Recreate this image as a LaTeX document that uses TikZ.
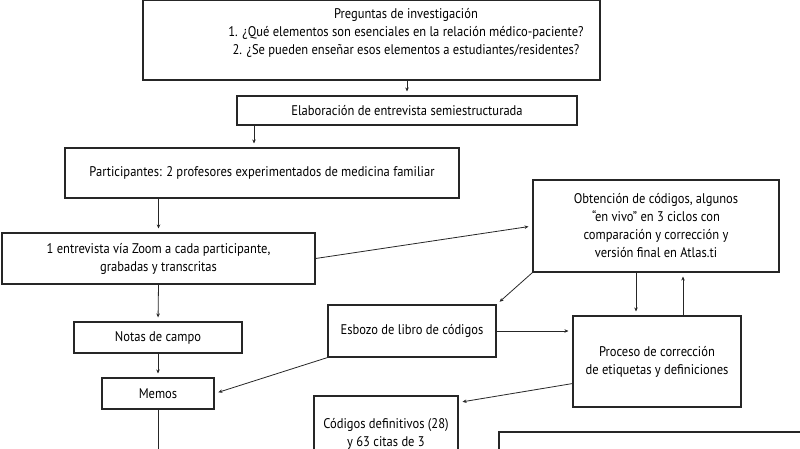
\documentclass[tikz,border=0pt]{standalone}
\usepackage{fontspec}
\setmainfont[FakeStretch=0.895]{PT Sans}
\usetikzlibrary{arrows.meta}

\begin{document}
\begin{tikzpicture}[
        x=1pt, y=-1pt,
        caja/.style={draw=black!85, line width=1.1pt, inner sep=0pt, align=center,
                     font=\fontsize{14}{18}\selectfont, text=black},
        texto/.style={align=center, inner sep=0pt, font=\fontsize{14}{18}\selectfont, text=black},
        flecha/.style={-{Stealth[length=4pt,width=3.5pt]}, line width=0.8pt, draw=black!85, shorten >=4pt},
        linea/.style={line width=0.8pt, draw=black!85}]

    \useasboundingbox (0,0) rectangle (800,448);
    \clip (0,0) rectangle (800,448);

    % --- Columna izquierda
    \node[caja, minimum width=457pt, minimum height=80pt] (preg) at (371.5,40) {};
    \node[texto] (pregtxt) at (406,33) {Preguntas de investigación\\
        1. ¿Qué elementos son esenciales en la relación médico-paciente?\\
        2. ¿Se pueden enseñar esos elementos a estudiantes/residentes?};
    \node[caja, minimum width=340pt, minimum height=29pt] (elab) at (407,110.5)
        {Elaboración de entrevista semiestructurada};
    \node[caja, minimum width=394pt, minimum height=50pt] (partic) at (262,173)
        {Participantes: 2 profesores experimentados de medicina familiar};
    \node[caja, minimum width=313pt, minimum height=51pt] (entrev) at (158.5,258.5)
        {1 entrevista vía Zoom a cada participante,\\ grabadas y transcritas};
    \node[caja, minimum width=168pt, minimum height=31pt] (notas) at (158,337.5) {Notas de campo};
    \node[caja, minimum width=112pt, minimum height=31pt] (memos) at (158,393.5) {Memos};

    % --- Columna derecha
    \node[caja, minimum width=246pt, minimum height=92pt] (obten) at (656,226)
        {Obtención de códigos, algunos\\ “en vivo” en 3 ciclos con\\
         comparación y corrección y\\ versión final en Atlas.ti};
    \node[caja, minimum width=168pt, minimum height=52pt] (esbozo) at (412,331)
        {Esbozo de libro de códigos};
    \node[caja, minimum width=168pt, minimum height=91pt] (proceso) at (657,361.5)
        {Proceso de corrección\\ de etiquetas y definiciones};
    \node[caja, minimum width=144pt, minimum height=110pt] (codigos) at (386,451) {};
    \node[texto] (codtxt) at (386,434) {Códigos definitivos (28)\\ y 63 citas de 3};
    \node[caja, minimum width=400pt, minimum height=60pt] (final) at (699,462) {};

    % --- Conectores verticales
    \coordinate (xelab) at (254,0);
    \coordinate (xbaja) at (636,0);
    \coordinate (xsube) at (683,0);
    \draw[flecha] (elab.north |- preg.south) -- (elab.north);
    \draw[flecha] (elab.south -| xelab) -- (partic.north -| xelab);
    \draw[flecha] (entrev.north |- partic.south) -- (entrev.north);
    \draw[flecha] (entrev.south) -- (notas.north);
    \draw[flecha] (notas.south) -- (memos.north);
    \draw[linea] (memos.south) -- ++(0,60);
    \draw[flecha] (obten.south -| xbaja) -- (proceso.north -| xbaja);
    \draw[flecha] (proceso.north -| xsube) -- (obten.south -| xsube);

    % --- Conectores oblicuos
    \draw[flecha] (entrev.east) -- (obten.west);
    \draw[flecha] (obten.south west) -- (esbozo.north east);
    \draw[flecha] (esbozo.east) -- (esbozo.east -| proceso.west);
    \draw[flecha] (esbozo.south west) -- (memos.east);
    \draw[flecha] ([yshift=24pt]proceso.south west) -- ([yshift=-7pt]codigos.north east);

\end{tikzpicture}
\end{document}
